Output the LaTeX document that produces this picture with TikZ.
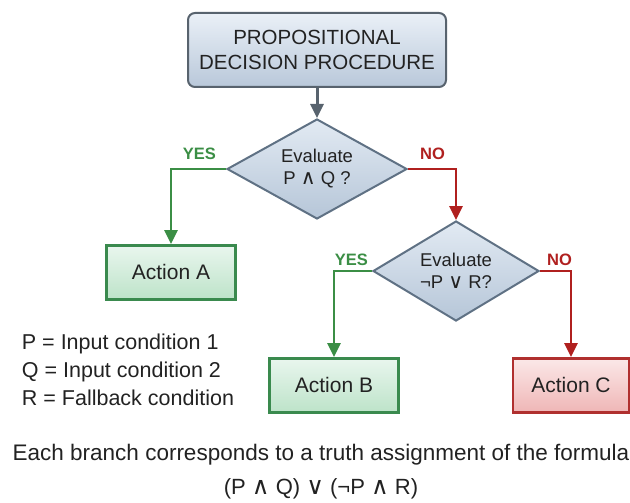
\documentclass[tikz,border=0pt]{standalone}
\usepackage{fontspec}
\setmainfont{Liberation Sans}
\newfontfamily\dvsfont[Scale=1.1]{DejaVu Sans}
\usepackage{xcolor}
\usetikzlibrary{arrows.meta, positioning, shapes.geometric}

\definecolor{framegray}{HTML}{58636E}
\definecolor{titletop}{HTML}{EAF0F7}
\definecolor{titlebot}{HTML}{B9C8DA}
\definecolor{diamondedge}{HTML}{5F7184}
\definecolor{diamondtop}{HTML}{E2EAF3}
\definecolor{diamondbot}{HTML}{B6C6D8}
\definecolor{yesedge}{HTML}{3A8A4E}
\definecolor{yestop}{HTML}{E9F6EE}
\definecolor{yesbot}{HTML}{BDE3C9}
\definecolor{yesgreen}{HTML}{3B8E45}
\definecolor{noedge}{HTML}{B0302F}
\definecolor{notop}{HTML}{FBE8E8}
\definecolor{nobot}{HTML}{EFB6B6}
\definecolor{nored}{HTML}{B0201F}
\definecolor{inkgray}{HTML}{222222}

\newcommand{\andsym}{{\dvsfont ∧}}
\newcommand{\orsym}{{\dvsfont ∨}}

\begin{document}
\begin{tikzpicture}[
        x=1pt, y=1pt,
        >={Triangle[length=14pt,width=13pt]},
        titlebox/.style={draw=framegray, line width=2pt, rounded corners=7pt, top color=titletop, bottom color=titlebot, text=inkgray, align=center, minimum width=258pt, minimum height=74pt, font=\fontsize{20.5pt}{25pt}\selectfont},
        decision/.style={diamond, aspect=1.8, draw=diamondedge, line width=2pt, top color=diamondtop, bottom color=diamondbot, text=inkgray, align=center, inner sep=0pt, minimum height=100pt, font=\fontsize{18.5pt}{22pt}\selectfont},
        action/.style={draw, line width=2.6pt, text=inkgray, minimum width=129pt, minimum height=54pt, font=\fontsize{21pt}{25pt}\selectfont},
        yesbox/.style={action, draw=yesedge, top color=yestop, bottom color=yesbot},
        nobox/.style={action, draw=noedge, top color=notop, bottom color=nobot, minimum width=116pt},
        yesflow/.style={->, draw=yesgreen, line width=2.8pt},
        noflow/.style={->, draw=nored, line width=2.8pt},
        answer/.style={inner sep=0pt, font=\bfseries\fontsize{16.5pt}{18pt}\selectfont},
        legend/.style={align=left, inner sep=0pt, text=inkgray, font=\fontsize{21.5pt}{28pt}\selectfont},
        summary/.style={inner sep=0pt, text=inkgray, font=\fontsize{22.5pt}{27pt}\selectfont}
    ]
        \useasboundingbox (0,0) rectangle (630,-503);

        % Nodes
        \node[titlebox] (title) at (317,-50) {PROPOSITIONAL\\DECISION PROCEDURE};
        \node[decision, minimum width=180pt, below=30pt of title] (evalPQ) {Evaluate\\P \andsym{} Q ?};
        \node[decision, minimum width=166pt, below=0pt of evalPQ, xshift=139pt] (evalNPR) {Evaluate\\¬P \orsym{} R?};
        \node[yesbox, below=75pt of evalPQ.west, xshift=-55pt] (actionA) {Action A};
        \node[yesbox, below=86pt of evalNPR.west, xshift=-38pt] (actionB) {Action B};
        \node[nobox, below=86pt of evalNPR.east, xshift=31pt] (actionC) {Action C};
        \node[legend, below=33pt of actionA, xshift=-43pt] (vars) {P = Input condition 1\\Q = Input condition 2\\R = Fallback condition};
        \node[summary] (note) at (321,-455) {Each branch corresponds to a truth assignment of the formula};
        \node[summary, font=\fontsize{22pt}{26pt}\selectfont, below=13pt of note] (formula) {(P \andsym{} Q) \orsym{} (¬P \andsym{} R)};

        % Branch labels
        \node[answer, text=yesgreen, above left=9pt and 10pt of evalPQ.west] (yesPQ) {YES};
        \node[answer, text=nored, above right=9pt and 12pt of evalPQ.east] (noPQ) {NO};
        \node[answer, text=yesgreen, above left=5pt and 4pt of evalNPR.west] (yesNPR) {YES};
        \node[answer, text=nored, above right=5pt and 7pt of evalNPR.east] (noNPR) {NO};

        % Arrows
        \draw[->, draw=framegray, line width=3pt] (title) -- (evalPQ);
        \draw[yesflow] (evalPQ.west) -| (actionA.north);
        \draw[noflow] (evalPQ.east) -| (evalNPR.north);
        \draw[yesflow] (evalNPR.west) -| (actionB.north);
        \draw[noflow] (evalNPR.east) -| (actionC.north);
    \end{tikzpicture}
\end{document}
